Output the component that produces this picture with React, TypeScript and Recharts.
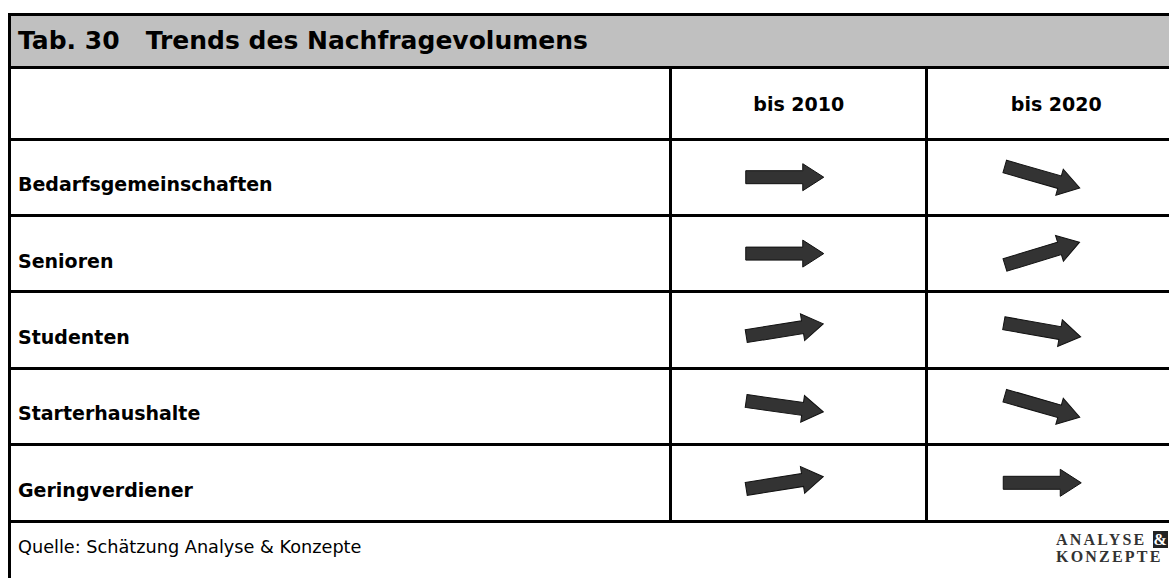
import React from 'react';
import { ScatterChart, Scatter, XAxis, YAxis } from 'recharts';

const groups = ['Bedarfsgemeinschaften', 'Senioren', 'Studenten', 'Starterhaushalte', 'Geringverdiener'];
const periods = ['bis 2010', 'bis 2020'];
// tilt of each trend arrow in degrees (+ rising, - falling)
const trendBis2010 = [0, 0, 9, -8, 9];
const trendBis2020 = [-16, 17, -10, -16, 0];

const W = 1169;
const H = 578;
const LEFT = 8;
const TOP = 14;
const TITLE_BOTTOM = 67;
const HEAD_BOTTOM = 139;
const BODY_BOTTOM = 521;
const COL1 = 670;
const COL2 = 926;
const TABLE_RIGHT = 1185; // table runs past the cropped right edge
const LINE = 3;
const FONT = '"DejaVu Sans", Verdana, sans-serif';

const points = [
  ...trendBis2010.map((angle, i) => ({ col: 0.5, row: i + 0.5, angle })),
  ...trendBis2020.map((angle, i) => ({ col: 1.5, row: i + 0.5, angle })),
];

const Arrow = (props: any) => {
  const { cx, cy, payload } = props;
  const len = 78, shaft = 13, headLen = 21, headW = 27;
  const x0 = -len / 2, x1 = len / 2 - headLen, x2 = len / 2;
  const d = `M${x0},${-shaft / 2} L${x1},${-shaft / 2} L${x1},${-headW / 2} L${x2},0 L${x1},${headW / 2} L${x1},${shaft / 2} L${x0},${shaft / 2} Z`;
  return (
    <path
      d={d}
      transform={`translate(${cx - 14},${cy}) rotate(${-payload.angle})`}
      fill="#333333"
      stroke="#111111"
      strokeWidth={1}
    />
  );
};

const HeaderTick = (props: any) => {
  const { x, payload } = props;
  return (
    <text x={x} y={(TITLE_BOTTOM + HEAD_BOTTOM) / 2 + 1} textAnchor="middle" dominantBaseline="central"
      fontFamily={FONT} fontWeight="bold" fontSize={19} fill="#000">
      {periods[Math.floor(payload.value)]}
    </text>
  );
};

const RowTick = (props: any) => {
  const { y, payload } = props;
  return (
    <text x={18} y={y + 7} textAnchor="start" dominantBaseline="central"
      fontFamily={FONT} fontWeight="bold" fontSize={19} fill="#000">
      {groups[Math.floor(payload.value)]}
    </text>
  );
};

export default function App() {
  const rowH = (BODY_BOTTOM - HEAD_BOTTOM) / groups.length;
  const hLines = [TOP, TITLE_BOTTOM, HEAD_BOTTOM, ...groups.map((_, i) => HEAD_BOTTOM + (i + 1) * rowH)];

  return (
    <div style={{ position: 'absolute', left: 0, top: 0, width: W, height: H, overflow: 'hidden', background: '#fff', fontFamily: FONT, color: '#000' }}>
      <div style={{ position: 'absolute', left: LEFT, top: TOP, right: 0, height: TITLE_BOTTOM - TOP, background: '#c0c0c0' }} />
      <div style={{ position: 'absolute', left: 18, top: TOP, height: TITLE_BOTTOM - TOP, display: 'flex', alignItems: 'center', fontSize: 25, fontWeight: 'bold', whiteSpace: 'pre' }}>
        Tab. 30   Trends des Nachfragevolumens
      </div>

      {hLines.map(y => (
        <div key={y} style={{ position: 'absolute', left: LEFT, right: 0, top: y - LINE / 2, height: LINE, background: '#000' }} />
      ))}
      <div style={{ position: 'absolute', left: LEFT, top: TOP - LINE / 2, width: LINE, bottom: 0, background: '#000' }} />
      {[COL1, COL2].map(x => (
        <div key={x} style={{ position: 'absolute', left: x - LINE / 2, top: TITLE_BOTTOM, width: LINE, height: BODY_BOTTOM - TITLE_BOTTOM, background: '#000' }} />
      ))}

      <div style={{ position: 'absolute', left: 0, top: 0 }}>
        <ScatterChart width={TABLE_RIGHT} height={H} margin={{ top: TITLE_BOTTOM, left: LEFT, right: 0, bottom: H - BODY_BOTTOM }}>
          <XAxis type="number" dataKey="col" domain={[0, periods.length]} orientation="top"
            height={HEAD_BOTTOM - TITLE_BOTTOM} ticks={periods.map((_, i) => i + 0.5)}
            tick={<HeaderTick />} axisLine={false} tickLine={false} tickSize={0} />
          <YAxis type="number" dataKey="row" domain={[0, groups.length]} reversed
            width={COL1 - LEFT} ticks={groups.map((_, i) => i + 0.5)}
            tick={<RowTick />} axisLine={false} tickLine={false} tickSize={0} />
          <Scatter data={points} shape={<Arrow />} isAnimationActive={false} />
        </ScatterChart>
      </div>

      <div style={{ position: 'absolute', left: 18, top: 537, height: 20, display: 'flex', alignItems: 'center', fontSize: 17.7 }}>
        Quelle: Schätzung Analyse &amp; Konzepte
      </div>

      <div style={{ position: 'absolute', left: 1056, top: 531, fontFamily: '"Liberation Serif", "Times New Roman", serif', fontWeight: 'bold', fontSize: 16, lineHeight: '17px', letterSpacing: 2.2, color: '#333', whiteSpace: 'nowrap' }}>
        <div>ANALYSE <span style={{ background: '#222', color: '#fff', padding: '0 1px', letterSpacing: 0 }}>&amp;</span></div>
        <div>KONZEPTE</div>
      </div>
    </div>
  );
}
